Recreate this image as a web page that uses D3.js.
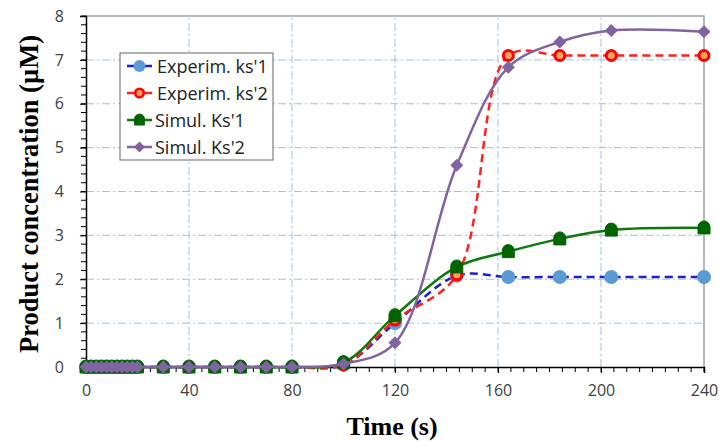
<!DOCTYPE html>
<html>
<head>
<meta charset="utf-8">
<script src="https://cdn.jsdelivr.net/npm/d3@7"></script>
<style>
  body { margin: 0; background: #fff; }
  .tick text { font-family: "Open Sans", sans-serif; font-size: 16px; fill: #404040; }
  .axis-title { font-family: "Liberation Serif", serif; font-weight: bold; fill: #000; }
  .legend text { font-family: "Open Sans", sans-serif; font-size: 18px; fill: #222; }
</style>
</head>
<body>
<svg id="chart" width="719" height="441"></svg>
<script>
// time points (s)
const times = [0, 2, 4, 6, 8, 10, 12, 14, 16, 18, 20, 30, 40, 50, 60, 70, 80, 100, 120, 144, 164, 184, 204, 240];
const zeros = times.slice(0, 17).map(() => 0);
const experimKs1 = zeros.concat([0.05, 1.0, 2.08, 2.05, 2.05, 2.05, 2.05]);
const experimKs2 = zeros.concat([0.05, 1.07, 2.1, 7.1, 7.1, 7.1, 7.1]);
const simulKs1 = zeros.concat([0.1, 1.17, 2.28, 2.63, 2.92, 3.12, 3.17]);
const simulKs2 = zeros.concat([0.07, 0.55, 4.6, 6.83, 7.41, 7.67, 7.64]);
const xTicks = [0, 40, 80, 120, 160, 200, 240];
const yTicks = [0, 1, 2, 3, 4, 5, 6, 7, 8];
const seriesNames = ["Experim. ks'1", "Experim. ks'2", "Simul. Ks'1", "Simul. Ks'2"];

const margin = {left: 86, right: 15, top: 16, bottom: 74};
const W = 719, H = 441;
const svg = d3.select('#chart');

const x = d3.scaleLinear().domain([0, 240]).range([margin.left, W - margin.right]);
const y = d3.scaleLinear().domain([0, 8]).range([H - margin.bottom, margin.top]);

// grid lines
const grid = svg.append('g').attr('class', 'grid');
grid.selectAll('line.gx')
    .data(xTicks.slice(1, -1))
    .enter().append('line')
    .attr('x1', d => x(d)).attr('x2', d => x(d))
    .attr('y1', y(0)).attr('y2', y(8))
    .attr('stroke', '#9dc3e6').attr('stroke-width', 1).attr('stroke-dasharray', '8,3,2,3');
grid.selectAll('line.gy')
    .data(yTicks.slice(1, -1))
    .enter().append('line')
    .attr('y1', d => y(d)).attr('y2', d => y(d))
    .attr('x1', x(0)).attr('x2', x(240))
    .attr('stroke', '#9dc3e6').attr('stroke-width', 1).attr('stroke-dasharray', '8,3,2,3');

// top / right frame
svg.append('path')
    .attr('d', `M${x(0)},${y(8)}H${x(240)}V${y(0)}`)
    .attr('fill', 'none').attr('stroke', '#a0a0a0').attr('stroke-width', 1.5);

// minor ticks
const xMinor = d3.range(0, 241, 5);
const yMinor = d3.range(0, 8.01, 0.2);
svg.append('g').selectAll('line')
    .data(xMinor).enter().append('line')
    .attr('x1', d => x(d)).attr('x2', d => x(d))
    .attr('y1', y(0)).attr('y2', y(0) + 5)
    .attr('stroke', '#000').attr('stroke-width', 1);
svg.append('g').selectAll('line')
    .data(yMinor).enter().append('line')
    .attr('y1', d => y(d)).attr('y2', d => y(d))
    .attr('x1', x(0)).attr('x2', x(0) - 5)
    .attr('stroke', '#000').attr('stroke-width', 1);

// axes
const xAxis = d3.axisBottom(x).tickValues(xTicks).tickSize(6).tickPadding(12);
const yAxis = d3.axisLeft(y).tickValues(yTicks).tickSize(6).tickPadding(16);
svg.append('g').attr('class', 'x axis')
    .attr('transform', `translate(0,${y(0)})`)
    .call(xAxis)
    .call(g => g.select('.domain').attr('stroke', '#000').attr('stroke-width', 1.5));
svg.append('g').attr('class', 'y axis')
    .attr('transform', `translate(${x(0)},0)`)
    .call(yAxis)
    .call(g => g.select('.domain').attr('stroke', '#000').attr('stroke-width', 1.5));

// axis titles
svg.append('text').attr('class', 'axis-title')
    .style('font-size', '26px')
    .attr('x', 392).attr('y', 435)
    .attr('text-anchor', 'middle').text('Time (s)');
svg.append('text').attr('class', 'axis-title')
    .style('font-size', '26.5px')
    .attr('transform', `translate(38,194) rotate(-90)`)
    .attr('text-anchor', 'middle').text('Product concentration (µM)');

// marker shapes
const markers = {
  circleBlue: g => g.append('circle').attr('r', 7).attr('fill', '#5b9bd5'),
  circleRed: g => g.append('circle').attr('r', 5).attr('fill', '#f4a460').attr('stroke', '#ff0000').attr('stroke-width', 3),
  house: g => g.append('path').attr('d', 'M-6,6V-1A6,6 0 0 1 6,-1V6Z').attr('fill', '#006400').attr('stroke', '#006400').attr('stroke-width', 1),
  diamond: g => g.append('path').attr('d', 'M0,-6.5L6.5,0L0,6.5L-6.5,0Z').attr('fill', '#8064a2')
};

const series = [
  {name: seriesNames[0], values: experimKs1, color: '#1f1fd0', dash: '8,5', marker: markers.circleBlue},
  {name: seriesNames[1], values: experimKs2, color: '#ff2020', dash: '8,5', marker: markers.circleRed},
  {name: seriesNames[2], values: simulKs1, color: '#0b7a0b', dash: null, marker: markers.house},
  {name: seriesNames[3], values: simulKs2, color: '#8064a2', dash: null, marker: markers.diamond}
];

const line = d3.line()
    .x(d => x(d[0]))
    .y(d => y(d[1]))
    .curve(d3.curveCatmullRom.alpha(0.5));

const plot = svg.append('g');
series.forEach(s => {
  const pts = times.map((t, i) => [t, s.values[i]]);
  plot.append('path')
      .datum(pts)
      .attr('d', line)
      .attr('fill', 'none')
      .attr('stroke', s.color)
      .attr('stroke-width', 2.5)
      .attr('stroke-dasharray', s.dash);
  plot.append('g').selectAll('g')
      .data(pts).enter().append('g')
      .attr('transform', d => `translate(${x(d[0])},${y(d[1])})`)
      .each(function () { s.marker(d3.select(this)); });
});

// legend
const legend = svg.append('g').attr('class', 'legend').attr('transform', 'translate(120,53)');
legend.append('rect')
    .attr('width', 153).attr('height', 107)
    .attr('fill', '#fff').attr('stroke', '#666').attr('stroke-width', 1);
series.forEach((s, i) => {
  const row = legend.append('g').attr('transform', `translate(0,${13 + i * 27})`);
  row.append('line')
      .attr('x1', 7).attr('x2', 32).attr('y1', 0).attr('y2', 0)
      .attr('stroke', s.color).attr('stroke-width', 2.5);
  const m = row.append('g').attr('transform', 'translate(19.5,0) scale(0.85)');
  s.marker(m);
  row.append('text').attr('x', i < 2 ? 37 : 35).attr('y', 6.5).text(s.name);
});
</script>
</body>
</html>
